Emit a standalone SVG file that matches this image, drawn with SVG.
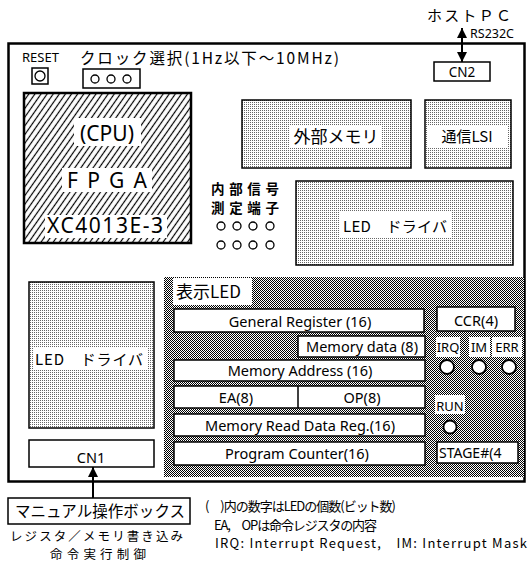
<svg xmlns="http://www.w3.org/2000/svg" width="528" height="565" viewBox="0 0 528 565">
<defs>
<pattern id="hatch" width="5" height="5" patternUnits="userSpaceOnUse" patternTransform="rotate(35)"><line x1="2.5" y1="0" x2="2.5" y2="5" stroke="#000" stroke-width="1.2"/></pattern>
<pattern id="dots" width="2" height="2" patternUnits="userSpaceOnUse"><rect width="2" height="2" fill="#fff"/><rect width="1" height="1" fill="#666"/></pattern>
<pattern id="checker" width="2" height="2" patternUnits="userSpaceOnUse"><rect width="2" height="2" fill="#fff"/><rect width="1" height="1" fill="#000"/><rect x="1" y="1" width="1" height="1" fill="#000"/></pattern>
<marker id="ah" viewBox="0 0 10 10" refX="10" refY="5" markerWidth="10" markerHeight="10" markerUnits="userSpaceOnUse" orient="auto-start-reverse"><path d="M0,0 L10,5 L0,10 Z" fill="#000"/></marker>
</defs>
<style>
.jp{font-family:"Noto Sans CJK JP","Noto Sans",sans-serif;fill:#000}
.en{font-family:"Noto Sans","Liberation Sans",sans-serif;fill:#000}
.box{fill:#fff;stroke:#000;stroke-width:1.5}
.dot{fill:url(#dots);stroke:#000;stroke-width:1.5}
.bg{fill:#fff}
.c{text-anchor:middle}
.pin{fill:#fff;stroke:#000;stroke-width:1.3}
.led{fill:#fff;stroke:#000;stroke-width:1.8}
</style>
<rect width="528" height="565" fill="#fff"/>

<g id="board">
<rect x="8.5" y="43.5" width="516" height="438" fill="#fff" stroke="#000" stroke-width="2.5"/>
</g>

<g id="reset">
<text x="22" y="62" class="en" font-size="13">RESET</text>
<rect x="32" y="68" width="16" height="16" class="box"/>
<circle cx="40" cy="76" r="5" class="pin"/>
</g>

<g id="clock">
<text x="80" y="64" class="jp" font-size="15.5" textLength="259">クロック選択(1Hz以下～10MHz)</text>
<rect x="83" y="69" width="57" height="19" class="box"/>
<circle cx="95" cy="79" r="4" class="pin"/>
<circle cx="111" cy="79" r="4" class="pin"/>
<circle cx="127" cy="79" r="4" class="pin"/>
</g>

<g id="cpu">
<rect x="24" y="93" width="167" height="150" fill="url(#hatch)" stroke="#000" stroke-width="2.5"/>
<rect x="74" y="118" width="67" height="28" class="bg"/>
<rect x="62" y="168" width="90" height="24" class="bg"/>
<rect x="45" y="215" width="122" height="23" class="bg"/>
<text x="107" y="141" class="en c" font-size="21">(CPU)</text>
<text x="107" y="188" class="en c" font-size="21" textLength="80">F P G A</text>
<text x="105" y="233" class="en c" font-size="21" textLength="116">XC4013E-3</text>
</g>

<g id="ext-mem">
<rect x="242" y="100" width="169" height="68" class="dot"/>
<rect x="289" y="126" width="93" height="22" class="bg"/>
<text x="336" y="143" class="jp c" font-size="17">外部メモリ</text>
</g>

<g id="comm-lsi">
<rect x="425" y="100" width="86" height="68" class="dot"/>
<rect x="427" y="126" width="80" height="22" class="bg"/>
<text x="467" y="142" class="jp c" font-size="15">通信LSI</text>
</g>

<g id="probe">
<text x="211" y="194" class="jp" font-size="13.5" font-weight="bold" textLength="68">内部信号</text>
<text x="211" y="213" class="jp" font-size="13.5" font-weight="bold" textLength="68">測定端子</text>
<circle cx="221" cy="226" r="4" class="pin"/>
<circle cx="237" cy="226" r="4" class="pin"/>
<circle cx="253" cy="226" r="4" class="pin"/>
<circle cx="270" cy="226" r="4" class="pin"/>
<circle cx="221" cy="245" r="4" class="pin"/>
<circle cx="237" cy="245" r="4" class="pin"/>
<circle cx="253" cy="245" r="4" class="pin"/>
<circle cx="270" cy="245" r="4" class="pin"/>
</g>

<g id="led-driver-right">
<rect x="296" y="181" width="217" height="84" class="dot"/>
<rect x="339" y="212" width="112" height="25" class="bg"/>
<text x="343" y="232" class="jp" font-size="15" textLength="104">LED　ドライバ</text>
</g>

<g id="led-driver-left">
<rect x="29" y="282" width="125" height="146" class="dot"/>
<rect x="33" y="348" width="114" height="22" class="bg"/>
<text x="35" y="365" class="jp" font-size="15" textLength="108">LED　ドライバ</text>
</g>

<g id="cn1">
<rect x="29" y="440" width="125" height="27" class="box"/>
<text x="91" y="463" class="en c" font-size="14.5">CN1</text>
</g>

<g id="display-led">
<rect x="164" y="277" width="360" height="200" fill="url(#checker)"/>
<rect x="173" y="278" width="79" height="27" class="bg"/>
<text x="176" y="298" class="jp" font-size="17">表示LED</text>

<rect x="174" y="309" width="250" height="23" class="box"/>
<text x="300" y="327" class="en c" font-size="14.5">General Register (16)</text>

<rect x="437" y="307" width="78" height="24" class="box"/>
<text x="476" y="326" class="en c" font-size="14.5">CCR(4)</text>

<rect x="298" y="336" width="127" height="21" class="box"/>
<text x="362" y="352" class="en c" font-size="14.5">Memory data (8)</text>

<rect x="436" y="337" width="24" height="20" class="bg"/>
<rect x="469" y="337" width="21" height="20" class="bg"/>
<rect x="492" y="337" width="30" height="20" class="bg"/>
<text x="448" y="352" class="en c" font-size="13">IRQ</text>
<text x="479" y="352" class="en c" font-size="13">IM</text>
<text x="507" y="352" class="en c" font-size="13">ERR</text>
<circle cx="447" cy="367" r="7" class="led"/>
<circle cx="479" cy="367" r="7" class="led"/>
<circle cx="509" cy="367" r="7" class="led"/>

<rect x="174" y="360" width="251" height="21" class="box"/>
<text x="300" y="376" class="en c" font-size="14.5">Memory Address (16)</text>

<rect x="174" y="386" width="251" height="22" class="box"/>
<line x1="298" y1="386" x2="298" y2="408" stroke="#000" stroke-width="1.5"/>
<text x="236" y="403" class="en c" font-size="14.5">EA(8)</text>
<text x="362" y="403" class="en c" font-size="14.5">OP(8)</text>

<rect x="435" y="395" width="30" height="19" class="bg"/>
<text x="450" y="411" class="en c" font-size="13">RUN</text>
<circle cx="450" cy="427" r="6.5" class="led"/>

<rect x="174" y="414" width="251" height="22" class="box"/>
<text x="300" y="431" class="en c" font-size="14.5">Memory Read Data Reg.(16)</text>

<rect x="174" y="442" width="251" height="23" class="box"/>
<text x="297" y="459" class="en c" font-size="14.5">Program Counter(16)</text>

<rect x="437" y="442" width="81" height="21" class="box"/>
<text x="439" y="458" class="en" font-size="14">STAGE#(4</text>
</g>

<g id="cn2">
<rect x="434" y="62" width="56" height="19" class="box"/>
<text x="462" y="77" class="en c" font-size="13.5">CN2</text>
</g>

<g id="host-pc">
<text x="427" y="21" class="jp" font-size="15" textLength="84">ホストＰＣ</text>
<text x="470" y="38" class="en" font-size="12.5">RS232C</text>
</g>

<g id="manual-box">
<rect x="8" y="498" width="182" height="26" class="box"/>
<text x="100" y="517" class="jp c" font-size="15.5" textLength="170">マニュアル操作ボックス</text>
<text x="10" y="541" class="jp" font-size="12.5" textLength="173">レジスタ／メモリ書き込み</text>
<text x="50" y="559" class="jp" font-size="12.5" textLength="96">命令実行制御</text>
</g>

<g id="notes">
<text x="205" y="511" class="jp" font-size="13" textLength="191">(　)内の数字はLEDの個数(ビット数)</text>
<text x="214" y="530" class="jp" font-size="13" textLength="163">EA,　OPは命令レジスタの内容</text>
<text x="215" y="548" class="jp" font-size="13" textLength="312">IRQ: Interrupt Request,　IM: Interrupt Mask</text>
</g>

<g id="connectors">
<line x1="462" y1="28" x2="462" y2="62" stroke="#000" stroke-width="2" marker-start="url(#ah)" marker-end="url(#ah)"/>
<line x1="93" y1="498" x2="93" y2="467" stroke="#000" stroke-width="2" marker-end="url(#ah)"/>
</g>
</svg>
